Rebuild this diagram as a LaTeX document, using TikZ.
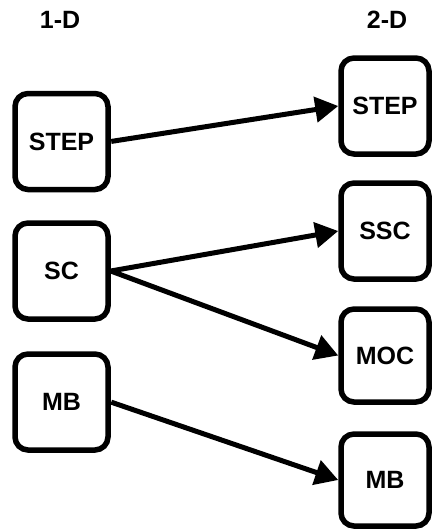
\documentclass[tikz,border=0pt]{standalone}
\usepackage{fontspec}
\setmainfont{Liberation Sans}
\usetikzlibrary{arrows.meta}
\begin{document}
\begin{tikzpicture}[x=1pt,y=-1pt,
  box/.style={draw=black, line width=5.5pt, rounded corners=13pt, fill=white,
    minimum width=93pt, minimum height=96pt, inner sep=0pt,
    font=\fontsize{25}{29}\selectfont\bfseries},
  rbox/.style={box, minimum width=88pt},
  head/.style={font=\fontsize{25}{29}\selectfont\bfseries},
  link/.style={line width=5pt, -{Triangle[length=23pt,width=25pt]}, shorten <=0.5pt}]
  \useasboundingbox (0,0) rectangle (432,531);
  % column titles
  \node[head] (t1) at (60,20) {1-D};
  \node[head] (t2) at (387,20) {2-D};
  % 1-D methods
  \node[box] (lstep) at (61.5,141.5) {STEP};
  \node[box] (lsc)   at (61.5,271)   {SC};
  \node[box] (lmb)   at (61.5,402)   {MB};
  % 2-D methods
  \node[rbox] (rstep) at (385,106) {STEP};
  \node[rbox] (rssc)  at (385,231) {SSC};
  \node[rbox, minimum height=93pt] (rmoc) at (385,355.5) {MOC};
  \node[rbox, minimum height=92pt] (rmb)  at (385,480)   {MB};
  % correspondences
  \draw[link] (lstep.east) -- (rstep.west);
  \draw[link] (lsc.east) -- (rssc.west);
  \draw[link] (lsc.east) -- (rmoc.west);
  \draw[link] (lmb.east) -- (rmb.west);
\end{tikzpicture}
\end{document}
